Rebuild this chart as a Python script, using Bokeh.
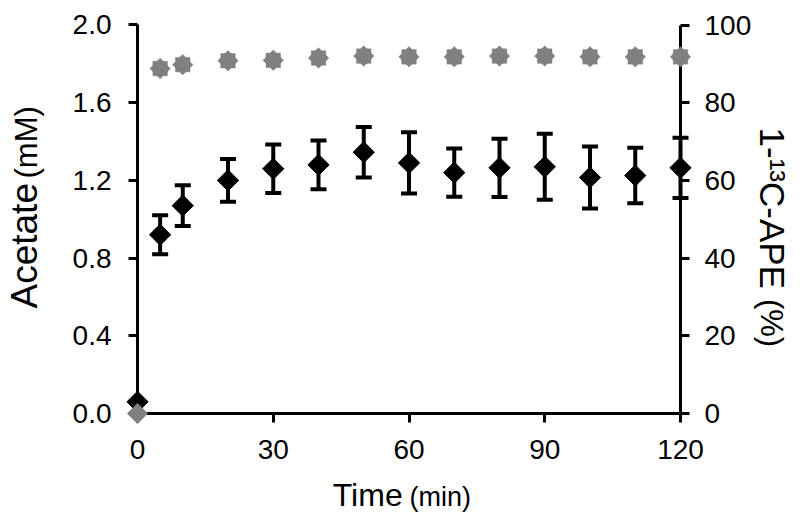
import math
from bokeh.plotting import figure
from bokeh.models import (Range1d, LinearAxis, FixedTicker, Whisker, TeeHead,
                          ColumnDataSource, Label, PrintfTickFormatter)
from bokeh.embed import file_html
from bokeh.resources import INLINE

# ---- data ----
time_min = [0, 5, 10, 20, 30, 40, 50, 60, 70, 80, 90, 100, 110, 120]
acetate_mM = [0.06, 0.92, 1.07, 1.20, 1.26, 1.28, 1.345, 1.29, 1.24, 1.265, 1.27, 1.215, 1.225, 1.265]
acetate_err = [0.0, 0.10, 0.105, 0.11, 0.125, 0.125, 0.13, 0.158, 0.124, 0.15, 0.17, 0.16, 0.143, 0.155]
ape_pct = [0.0, 88.8, 89.8, 90.8, 90.9, 91.5, 92.0, 91.8, 91.8, 92.0, 92.0, 91.8, 91.8, 91.8]

x_ticks = [0, 30, 60, 90, 120]
left_ticks = [0.0, 0.4, 0.8, 1.2, 1.6, 2.0]
right_ticks = [0, 20, 40, 60, 80, 100]

FONT = "Liberation Sans"
GRAY = "#808080"

W, H = 800, 532
# frame covers the whole canvas; axes sit at fixed data locations inside it
p = figure(width=W, height=H, output_backend="svg", toolbar_location=None,
           x_range=Range1d(-30.28, 146.52), y_range=Range1d(-0.6126, 2.1261),
           x_axis_type=None, y_axis_type=None,
           min_border_left=0, min_border_right=0,
           min_border_top=0, min_border_bottom=0)
p.outline_line_color = None
p.background_fill_color = "white"
p.border_fill_color = "white"
p.extra_y_ranges = {"pct": Range1d(-30.63, 106.31)}


def style(ax, standoff):
    ax.axis_line_width = 3
    ax.axis_line_color = "black"
    ax.major_tick_line_width = 3
    ax.major_tick_line_color = "black"
    ax.major_tick_in = 0
    ax.major_tick_out = 9
    ax.minor_tick_in = 0
    ax.minor_tick_out = 0
    ax.major_label_text_font = FONT
    ax.major_label_text_font_size = "28px"
    ax.major_label_text_color = "black"
    ax.major_label_standoff = standoff


xaxis = LinearAxis(ticker=FixedTicker(ticks=x_ticks), bounds=(0, 120), fixed_location=0)
style(xaxis, 17)
p.add_layout(xaxis, "below")

yaxis = LinearAxis(ticker=FixedTicker(ticks=left_ticks), bounds=(0, 2),
                   formatter=PrintfTickFormatter(format="%.1f"), fixed_location=0)
style(yaxis, 17)
p.add_layout(yaxis, "left")

raxis = LinearAxis(y_range_name="pct", ticker=FixedTicker(ticks=right_ticks),
                   bounds=(0, 100), fixed_location=120)
style(raxis, 15)
p.add_layout(raxis, "right")

# ---- acetate series with error bars ----
upper = [v + e for v, e in zip(acetate_mM, acetate_err)]
lower = [v - e for v, e in zip(acetate_mM, acetate_err)]
src = ColumnDataSource(dict(t=time_min, v=acetate_mM, up=upper, lo=lower))

w = Whisker(source=src, base="t", upper="up", lower="lo", line_width=4, line_color="black",
            upper_head=TeeHead(size=16, line_width=4, line_color="black"),
            lower_head=TeeHead(size=16, line_width=4, line_color="black"))
p.add_layout(w)

r1 = p.scatter(x="t", y="v", source=src, marker="square", angle=math.pi / 4, size=15,
               fill_color="black", line_color="black", line_width=1)
r1.level = "overlay"

# ---- APE series (right axis) ----
src2 = ColumnDataSource(dict(t=time_min, v=ape_pct))
src3 = ColumnDataSource(dict(t=time_min[1:], v=ape_pct[1:]))
r2 = p.scatter(x="t", y="v", source=src2, y_range_name="pct", marker="square",
               angle=math.pi / 4, size=14.5, fill_color=GRAY, line_color=GRAY, line_width=0.5)
r3 = p.scatter(x="t", y="v", source=src3, y_range_name="pct", marker="square",
               size=14.5, fill_color=GRAY, line_color=GRAY, line_width=0.5)
r2.level = "overlay"
r3.level = "overlay"

# ---- axis titles (mixed font sizes) ----
p.add_layout(Label(x=58.6, y=-0.418, text="Time", text_font=FONT, text_font_size="32px",
                   text_align="right", text_baseline="middle", text_color="black"))
p.add_layout(Label(x=60.1, y=-0.43, text="(min)", text_font=FONT, text_font_size="27px",
                   text_align="left", text_baseline="middle", text_color="black"))

p.add_layout(Label(x=-25.0, y=0.5405, text="Acetate", text_font=FONT, text_font_size="37px",
                   angle=math.pi / 2, text_align="left", text_baseline="middle",
                   text_color="black"))
p.add_layout(Label(x=-24.5, y=1.2098, text="(mM)", text_font=FONT, text_font_size="31px",
                   angle=math.pi / 2, text_align="left", text_baseline="middle",
                   text_color="black"))

p.add_layout(Label(x=140.44, y=1.472, text="1-\u00b9\u00b3C-APE", text_font=FONT,
                   text_font_size="35px", angle=-math.pi / 2, text_align="left",
                   text_baseline="middle", text_color="black"))
p.add_layout(Label(x=140.09, y=0.59, text="(%)", text_font=FONT, text_font_size="31px",
                   angle=-math.pi / 2, text_align="left", text_baseline="middle",
                   text_color="black"))

open("out.html", "w").write(file_html(p, INLINE))
